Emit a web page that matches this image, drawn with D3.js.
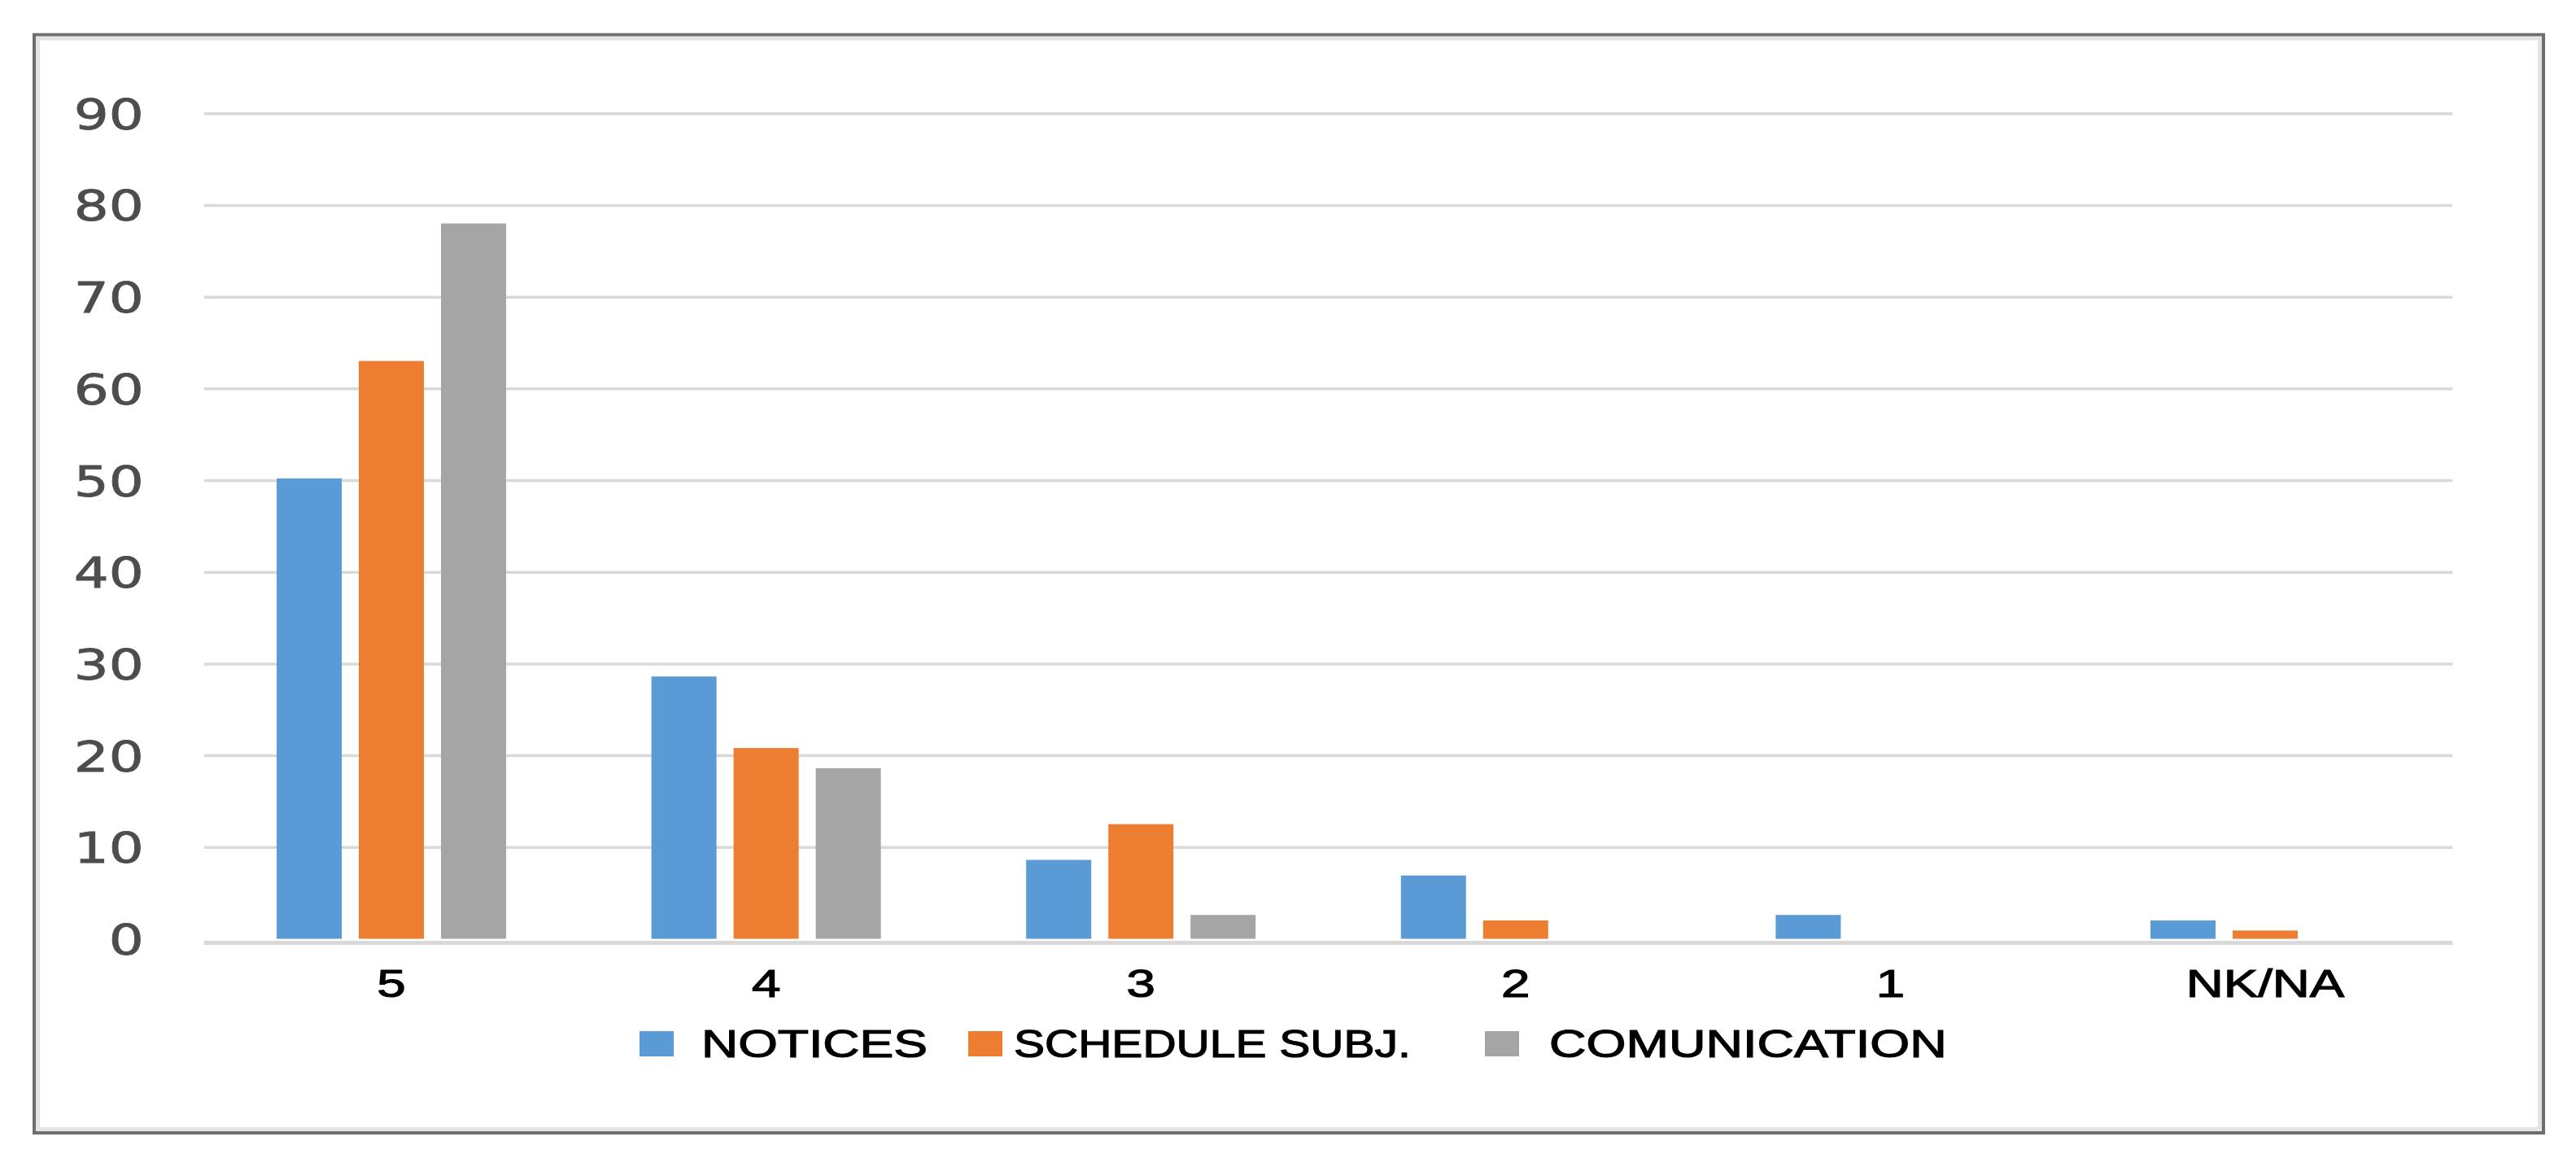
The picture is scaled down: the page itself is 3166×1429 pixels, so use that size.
<!DOCTYPE html>
<html>
<head>
<meta charset="utf-8">
<script src="https://cdn.jsdelivr.net/npm/d3@7"></script>
<style>
  html, body { margin: 0; padding: 0; background: #fff; }
  svg { display: block; }
</style>
</head>
<body>
<svg id="chart" width="3166" height="1429"></svg>
<script>
// Grouped bar chart: ratings 5..1 + NK/NA, three survey items.

const categories = ['5', '4', '3', '2', '1', 'NK/NA'];
const seriesNames = ['NOTICES', 'SCHEDULE SUBJ.', 'COMUNICATION'];
const notices = [50.2, 28.6, 8.6, 6.9, 2.6, 2.0];
const scheduleSubj = [63.0, 20.8, 12.5, 2.0, 0, 0.9];
const comunication = [78.0, 18.6, 2.6, 0, 0, 0];
const yTicks = [0, 10, 20, 30, 40, 50, 60, 70, 80, 90];

const seriesValues = [notices, scheduleSubj, comunication];
const colors = ['#5b9bd5', '#ed7d31', '#a5a5a5'];

// the source picture is stretched sideways, text gets the same squeeze
const SX = 1.3;

const plotLeft = 250.7, plotRight = 3014.3;
const plotTop = 139.3, plotBottom = 1153.5;

const svg = d3.select('#chart');

// frame: dark outline with a light inner edge
svg.append('rect')
  .attr('x', 42).attr('y', 42.7)
  .attr('width', 3126 - 42).attr('height', 1392 - 42.7)
  .attr('fill', '#fff')
  .attr('stroke', '#6e6e6e')
  .attr('stroke-width', 4);
svg.append('rect')
  .attr('x', 46.5).attr('y', 47.2)
  .attr('width', 3126 - 42 - 9).attr('height', 1392 - 42.7 - 9)
  .attr('fill', 'none')
  .attr('stroke', '#e4e4e4')
  .attr('stroke-width', 5);

const x0 = d3.scaleBand()
  .domain(categories)
  .range([plotLeft, plotRight])
  .padding(0);

const groupW = 282;
const x1 = d3.scaleBand()
  .domain(seriesNames)
  .range([0, groupW])
  .paddingInner(0.208)
  .paddingOuter(0);

const y = d3.scaleLinear()
  .domain([0, 90])
  .range([plotBottom, plotTop]);

// gridlines + y labels
const yAxis = d3.axisLeft(y)
  .tickValues(yTicks)
  .tickSize(-(plotRight - plotLeft))
  .tickFormat(d3.format('d'));

const gy = svg.append('g')
  .attr('transform', `translate(${plotLeft},0)`)
  .call(yAxis);

gy.select('.domain').remove();
gy.selectAll('.tick line')
  .attr('stroke', '#d9d9d9')
  .attr('stroke-width', 3.5);
gy.selectAll('.tick')
  .filter(d => d === 0)
  .select('line')
  .attr('y1', 4.5).attr('y2', 4.5)
  .attr('stroke-width', 5);
gy.selectAll('.tick text')
  .attr('font-family', '"DejaVu Sans", Verdana, sans-serif')
  .attr('font-size', 52)
  .attr('fill', '#4d4d4d')
  .attr('stroke', '#4d4d4d')
  .attr('stroke-width', 0.8)
  .attr('text-anchor', 'end')
  .attr('dy', null)
  .attr('x', -74 / SX)
  .attr('y', 19)
  .attr('transform', `scale(${SX},1)`);

// bars
const groups = svg.append('g')
  .selectAll('g')
  .data(categories)
  .join('g')
  .attr('transform', c => `translate(${x0(c) + (x0.bandwidth() - groupW) / 2},0)`);

groups.selectAll('rect')
  .data((c, i) => seriesNames.map((s, k) => ({ s, k, v: seriesValues[k][i] })))
  .join('rect')
  .filter(d => d.v > 0)
  .attr('x', d => x1(d.s))
  .attr('width', x1.bandwidth())
  .attr('y', d => y(d.v))
  .attr('height', d => y(0) - y(d.v))
  .attr('fill', d => colors[d.k]);

// category labels
const xAxis = d3.axisBottom(x0).tickSize(0);
const gx = svg.append('g')
  .attr('transform', `translate(0,${plotBottom})`)
  .call(xAxis);
gx.select('.domain').remove();
gx.selectAll('.tick text')
  .attr('font-family', '"Liberation Sans", Arial, sans-serif')
  .attr('font-size', 49)
  .attr('fill', '#000')
  .attr('stroke', '#000')
  .attr('stroke-width', 1.2)
  .attr('dy', null)
  .attr('y', 72)
  .attr('transform', `scale(${SX},1)`);

// legend - spacing in the source is uneven, so each entry has its own slot
const legendSlots = [
  { box: 786, text: 862, width: 278 },
  { box: 1190, text: 1246, width: 488 },
  { box: 1825, text: 1904, width: 489 }
];
const legend = svg.append('g');
seriesNames.forEach((name, k) => {
  const slot = legendSlots[k];
  legend.append('rect')
    .attr('x', slot.box).attr('y', 1267)
    .attr('width', 42).attr('height', 31)
    .attr('fill', colors[k]);
  const t = legend.append('text')
    .attr('font-family', '"Liberation Sans", Arial, sans-serif')
    .attr('font-size', 48)
    .attr('fill', '#000')
    .attr('stroke', '#000')
    .attr('stroke-width', 1.2)
    .text(name);
  const sx = slot.width / t.node().getComputedTextLength();
  t.attr('transform', `translate(${slot.text},1299) scale(${sx},1)`);
});
</script>
</body>
</html>
